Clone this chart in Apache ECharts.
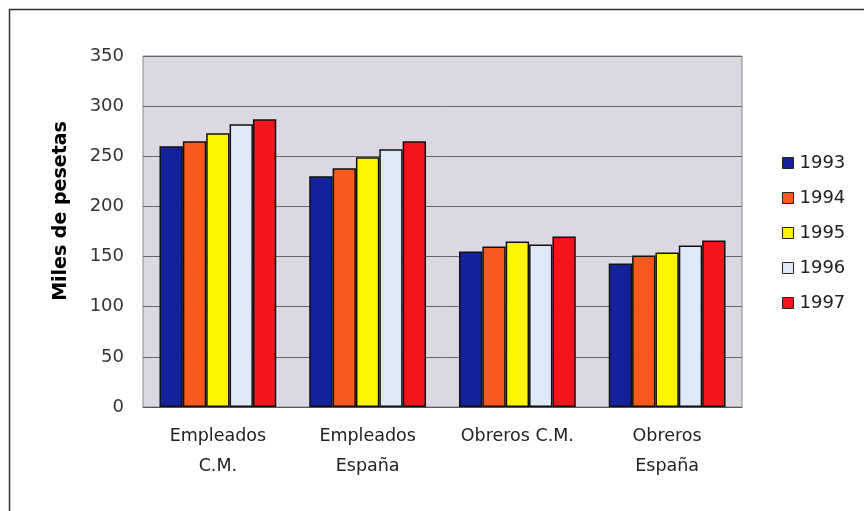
<!DOCTYPE html>
<html>
<head>
<meta charset="utf-8">
<script src="https://cdn.jsdelivr.net/npm/echarts@6/dist/echarts.min.js"></script>
<style>
html,body{margin:0;padding:0;background:#fff;}
#chart{width:864px;height:511px;}
</style>
</head>
<body>
<div id="chart"></div>
<script>
const categories = ['Empleados\nC.M.', 'Empleados\nEspaña', 'Obreros C.M.', 'Obreros\nEspaña'];
const years = ['1993', '1994', '1995', '1996', '1997'];
const v1993 = [260, 230, 155, 143];
const v1994 = [265, 238, 160, 151];
const v1995 = [273, 249, 165, 154];
const v1996 = [282, 257, 162, 161];
const v1997 = [287, 265, 170, 166];
const yTicks = [0, 50, 100, 150, 200, 250, 300, 350];
const yTitle = 'Miles de pesetas';
const colors = ['#14219a', '#f9591c', '#fbf500', '#dde9f6', '#f4141c'];
const seriesValues = [v1993, v1994, v1995, v1996, v1997];

const chart = echarts.init(document.getElementById('chart'), null, {renderer: 'canvas'});
const font = 'DejaVu Sans, sans-serif';
chart.setOption({
  animation: false,
  backgroundColor: '#ffffff',
  graphic: [{
    type: 'rect', z: -10,
    shape: {x: 9.5, y: 9.5, width: 900, height: 600},
    style: {fill: 'none', stroke: '#333', lineWidth: 1.5}
  }, {
    type: 'text', x: 61, y: 211, rotation: Math.PI / 2,
    style: {text: yTitle, fontFamily: 'DejaVu Sans, sans-serif', fontWeight: 'bold', fontSize: 19,
      fill: '#000', align: 'center', verticalAlign: 'middle'}
  }],
  legend: {
    orient: 'vertical',
    left: 777, top: 149,
    itemWidth: 11, itemHeight: 11, itemGap: 17,
    icon: 'rect',
    textStyle: {fontFamily: font, fontSize: 18, color: '#222', padding: [0,0,0,1]},
    data: years.map((y, i) => ({name: y, itemStyle: {borderColor: '#222', borderWidth: 1}}))
  },
  grid: {left: 143, top: 56, right: 122, bottom: 104, show: true, backgroundColor: '#dcd8e3', borderColor: '#888', borderWidth: 1},
  xAxis: {
    type: 'category', data: categories,
    axisTick: {show: false},
    axisLine: {lineStyle: {color: '#555'}},
    axisLabel: {fontFamily: font, fontSize: 17.5, color: '#222', lineHeight: 30, margin: 14, interval: 0}
  },
  yAxis: {
    type: 'value', min: 0, max: 350, interval: 50,
    axisLine: {show: false}, axisTick: {show: false},
    axisLabel: {fontFamily: font, fontSize: 18, color: '#333', margin: 19,
      formatter: v => yTicks.includes(v) ? String(v) : ''},
    splitLine: {lineStyle: {color: '#666', width: 1}}
  },
  series: years.map((y, i) => ({
    name: y, type: 'bar', data: seriesValues[i],
    barGap: '0%', barCategoryGap: '22%',
    itemStyle: {color: colors[i], borderColor: '#111', borderWidth: 1.5}
  }))
});
</script>
</body>
</html>
